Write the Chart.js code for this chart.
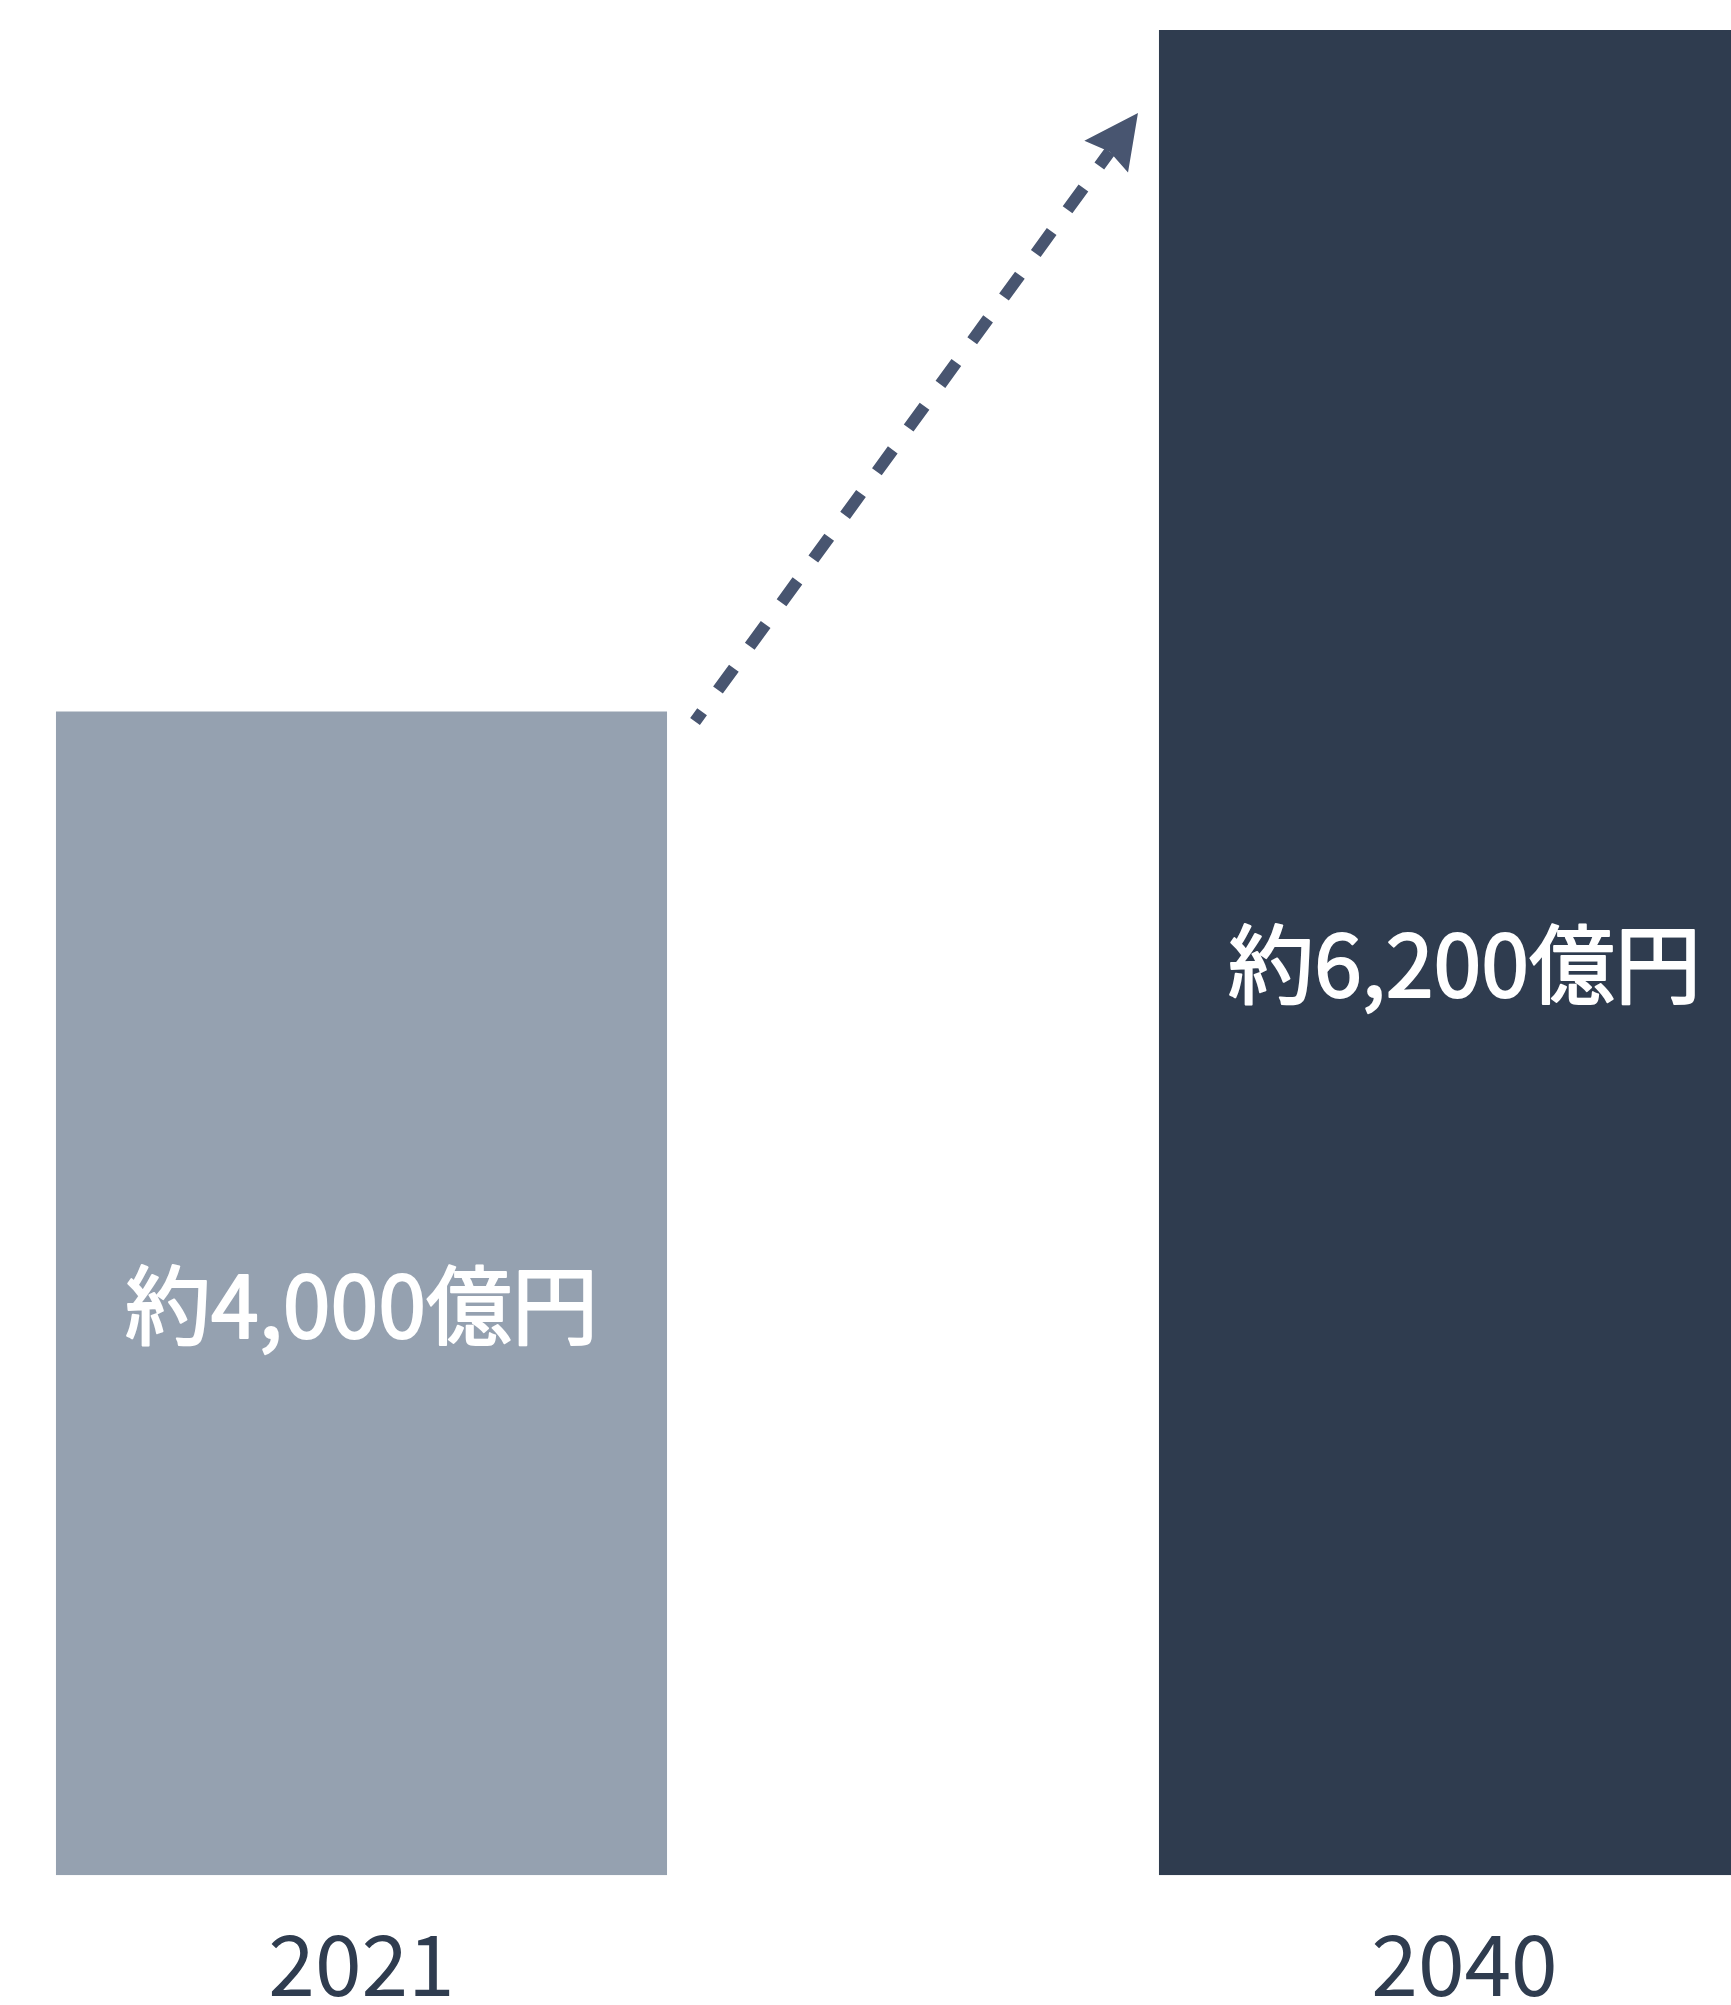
<!DOCTYPE html>
<html>
<head>
<meta charset="utf-8">
<script src="https://cdn.jsdelivr.net/npm/chart.js@4/dist/chart.umd.min.js"></script>
<style>
  html, body { margin: 0; padding: 0; background: #ffffff; overflow: hidden; width: 1731px; height: 2005px; }
  #wrap { position: absolute; left: -190px; top: 0; }
  canvas { display: block; }
</style>
</head>
<body>
<div id="wrap"><canvas id="c" width="2206" height="2052"></canvas></div>
<script>
// ---- data ----
const categories = ['2021', '2040'];
const values = [3910, 6200];
const valueLabels = ['約4,000億円', '約6,200億円'];
const barColors = ['#95a1b0', '#2f3c4f'];
const yMin = 0;
const yMax = 6200;

const FONT = '"Noto Sans CJK JP", "Noto Sans", sans-serif';

const labelPlugin = {
  id: 'barLabels',
  afterDatasetsDraw(chart) {
    const ctx = chart.ctx;
    const meta = chart.getDatasetMeta(0);
    ctx.save();
    ctx.fillStyle = '#ffffff';
    ctx.strokeStyle = '#ffffff';
    ctx.lineWidth = 2;
    ctx.lineJoin = 'round';
    ctx.font = '400 86px ' + FONT;
    ctx.textAlign = 'center';
    ctx.textBaseline = 'middle';
    meta.data.forEach((bar, i) => {
      const cy = (bar.y + bar.base) / 2 + 12;
      ctx.fillText(valueLabels[i], bar.x, cy);
      ctx.strokeText(valueLabels[i], bar.x, cy);
    });
    ctx.restore();
  }
};

const arrowPlugin = {
  id: 'growthArrow',
  afterDatasetsDraw(chart) {
    const ctx = chart.ctx;
    const meta = chart.getDatasetMeta(0);
    const b1 = meta.data[0], b2 = meta.data[1];
    const S = { x: b1.x + b1.width / 2 + 28, y: b1.y + 10 };
    const T = { x: b2.x - b2.width / 2 - 21, y: b2.y + 83 };
    const dx = T.x - S.x, dy = T.y - S.y;
    const len = Math.hypot(dx, dy);
    const ux = dx / len, uy = dy / len;
    const nx = -uy, ny = ux;
    const headLen = 54, headHalf = 27, notch = 6;
    const Bx = T.x - ux * headLen, By = T.y - uy * headLen;
    const color = '#485570';
    ctx.save();
    ctx.strokeStyle = color;
    ctx.lineWidth = 12;
    ctx.lineCap = 'butt';
    ctx.setLineDash([27, 27]);
    ctx.lineDashOffset = 15;
    ctx.beginPath();
    ctx.moveTo(S.x, S.y);
    ctx.lineTo(Bx + ux * notch, By + uy * notch);
    ctx.stroke();
    ctx.setLineDash([]);
    ctx.fillStyle = color;
    ctx.beginPath();
    ctx.moveTo(T.x, T.y);
    ctx.lineTo(Bx + nx * headHalf, By + ny * headHalf);
    ctx.lineTo(Bx + ux * notch, By + uy * notch);
    ctx.lineTo(Bx - nx * headHalf, By - ny * headHalf);
    ctx.closePath();
    ctx.fill();
    ctx.restore();
  }
};

new Chart(document.getElementById('c'), {
  type: 'bar',
  data: {
    labels: categories,
    datasets: [{
      data: values,
      backgroundColor: barColors,
      borderWidth: 0,
      barPercentage: 0.554,
      categoryPercentage: 1
    }]
  },
  options: {
    responsive: false,
    animation: false,
    devicePixelRatio: 1,
    layout: { padding: { top: 30, left: 0, right: 0, bottom: 0 } },
    plugins: { legend: { display: false }, tooltip: { enabled: false } },
    scales: {
      x: {
        grid: { display: false, drawTicks: false },
        border: { display: false },
        ticks: {
          color: '#2f3c4f',
          padding: 38,
          maxRotation: 0,
          autoSkip: false,
          font: { family: FONT, size: 84, weight: 'normal', lineHeight: 1.2 }
        }
      },
      y: { display: false, min: yMin, max: yMax }
    }
  },
  plugins: [arrowPlugin, labelPlugin]
});
</script>
</body>
</html>
